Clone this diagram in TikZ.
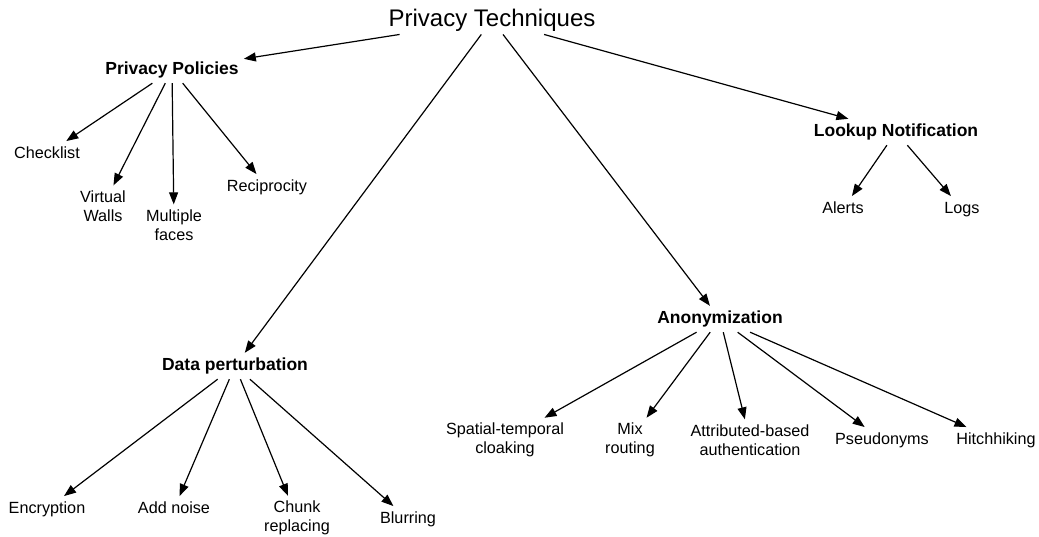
\documentclass[tikz,border=0pt]{standalone}
\usepackage{fontspec}
\setmainfont{Liberation Sans}
\usetikzlibrary{arrows.meta}
\begin{document}
\begin{tikzpicture}[x=1pt,y=-1pt,
  lbl/.style={font=\fontsize{16.2}{19}\selectfont, inner sep=5pt, text height=12pt, text depth=3.5pt},
  lbltwo/.style={font=\fontsize{16.2}{19}\selectfont, inner sep=5pt, align=center},
  head/.style={font=\bfseries\fontsize{17.5}{20}\selectfont, inner sep=5pt, text height=12.5pt, text depth=3.5pt},
  toptitle/.style={font=\fontsize{24}{28}\selectfont, inner sep=3pt, text height=17.5pt, text depth=5pt},
  arr/.style={-{Triangle[length=12pt,width=9pt]}, line width=1.2pt}]
\useasboundingbox (0,-2) rectangle (1039,534);

\node[toptitle] (root) at (492,18) {Privacy Techniques};

\node[head] (pp) at (172,68) {Privacy Policies};
\node[lbl] (check) at (47,152) {Checklist};
\node[lbltwo] (vw) at (103,204) {Virtual\\Walls};
\node[lbltwo] (mf) at (174,223) {Multiple\\faces};
\node[lbl] (recip) at (267,185) {Reciprocity};

\node[head] (ln) at (896,130) {Lookup Notification};
\node[lbl] (alerts) at (843,207) {Alerts};
\node[lbl] (logs) at (962,207) {Logs};

\node[head] (dp) at (235,364) {Data perturbation};
\node[lbl] (enc) at (47,507) {Encryption};
\node[lbl] (noise) at (174,507) {Add noise};
\node[lbltwo] (chunk) at (297,516) {Chunk\\replacing};
\node[lbl] (blur) at (408,517) {Blurring};

\node[head] (anon) at (720,317) {Anonymization};
\node[lbltwo] (stc) at (505,438) {Spatial-temporal\\cloaking};
\node[lbltwo] (mix) at (630,438) {Mix\\routing};
\node[lbltwo] (abs) at (750,438) {Attributed-based\\authentication};
\node[lbl] (pseudo) at (882,438) {Pseudonyms};
\node[lbl] (hitch) at (996,438) {Hitchhiking};

\draw[arr] (root) -- (pp);
\draw[arr] (root) -- (dp);
\draw[arr] (root) -- (anon);
\draw[arr] (root) -- (ln);

\draw[arr] (pp) -- (check);
\draw[arr] (pp) -- (vw);
\draw[arr] (pp) -- (mf);
\draw[arr] (pp) -- (recip);

\draw[arr] (ln) -- (alerts);
\draw[arr] (ln) -- (logs);

\draw[arr] (dp) -- (enc);
\draw[arr] (dp) -- (noise);
\draw[arr] (dp) -- (chunk);
\draw[arr] (dp) -- (blur);

\draw[arr] (anon) -- (stc);
\draw[arr] (anon) -- (mix);
\draw[arr] (anon) -- (abs);
\draw[arr] (anon) -- (pseudo);
\draw[arr] (anon) -- (hitch);
\end{tikzpicture}
\end{document}
